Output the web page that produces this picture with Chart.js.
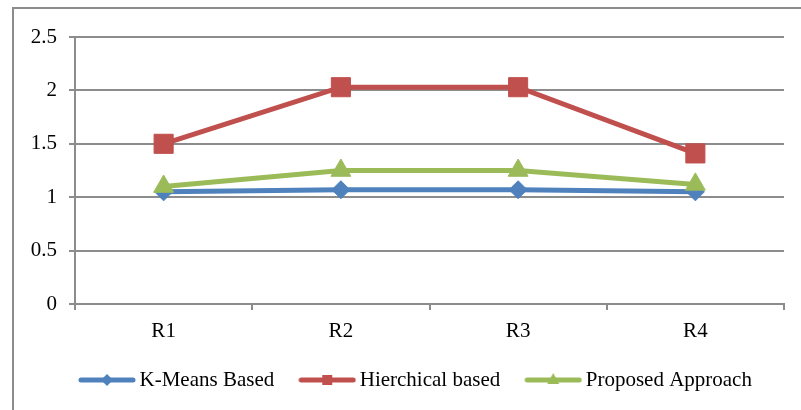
<!DOCTYPE html>
<html lang="en">
<head>
    <meta charset="UTF-8">
    <title>Clustering comparison</title>
    <style>
        body {
            margin: 0;
            background: #fff;
        }
        .frame {
            position: absolute;
            left: 12px;
            top: 7px;
            width: 801px;
            height: 410px;
            border-left: 2px solid #8c8c8c;
            border-top: 2px solid #8c8c8c;
        }
        canvas {
            position: absolute;
            left: 0;
            top: 0;
        }
    </style>
</head>
<body>
    <div class="frame"></div>
    <canvas id="myChart" width="801" height="410"></canvas>

    <script src="https://cdn.jsdelivr.net/npm/chart.js"></script>
    <script>
        const categories = ['R1', 'R2', 'R3', 'R4'];
        const kmeans = [1.05, 1.07, 1.07, 1.05];
        const hierchical = [1.5, 2.03, 2.03, 1.41];
        const proposed = [1.1, 1.25, 1.25, 1.12];
        const yTickLabels = ['0', '0.5', '1', '1.5', '2', '2.5'];

        const blue = '#4f81bd';
        const red = '#c0504d';
        const green = '#9bbb59';
        const gridGray = '#8c8c8c';

        // little line + marker picture for the legend
        function legendIcon(color, shape) {
            const c = document.createElement('canvas');
            c.width = 58;
            c.height = 20;
            const g = c.getContext('2d');
            g.strokeStyle = color;
            g.fillStyle = color;
            g.lineWidth = 5;
            g.lineCap = 'round';
            g.beginPath();
            g.moveTo(3, 10);
            g.lineTo(55, 10);
            g.stroke();
            g.beginPath();
            if (shape === 'diamond') {
                g.moveTo(29, 4); g.lineTo(35, 10); g.lineTo(29, 16); g.lineTo(23, 10);
            } else if (shape === 'square') {
                g.rect(24, 5, 10, 10);
            } else {
                g.moveTo(29, 3); g.lineTo(35, 14); g.lineTo(23, 14);
            }
            g.closePath();
            g.fill();
            return c;
        }

        const icons = [legendIcon(blue, 'diamond'), legendIcon(red, 'square'), legendIcon(green, 'triangle')];

        // legend row starts further right than the y axis box
        const shiftLegend = {
            id: 'shiftLegend',
            afterLayout(chart) {
                chart.legend.left = 54;
                chart.legend.right = 801;
            }
        };

        Chart.defaults.font.family = "'Liberation Serif', 'Times New Roman', serif";
        Chart.defaults.font.size = 21;
        Chart.defaults.color = '#000';

        const ctx = document.getElementById('myChart').getContext('2d');

        new Chart(ctx, {
            type: 'line',
            data: {
                labels: categories,
                datasets: [{
                    label: 'K-Means Based',
                    data: kmeans,
                    borderColor: blue,
                    backgroundColor: blue,
                    borderWidth: 5,
                    pointStyle: 'rectRot',
                    pointRadius: 9,
                    pointBorderWidth: 1,
                    order: 2
                }, {
                    label: 'Hierchical based',
                    data: hierchical,
                    borderColor: red,
                    backgroundColor: red,
                    borderWidth: 5,
                    pointStyle: 'rect',
                    pointRadius: 13.5,
                    pointBorderWidth: 1,
                    order: 1
                }, {
                    label: 'Proposed Approach',
                    data: proposed,
                    borderColor: green,
                    backgroundColor: green,
                    borderWidth: 5,
                    pointStyle: 'triangle',
                    pointRadius: 11.5,
                    pointBorderWidth: 1,
                    order: 0
                }]
            },
            options: {
                responsive: false,
                animation: false,
                layout: {
                    padding: { left: 20, right: 17, top: 37, bottom: 9.5 }
                },
                plugins: {
                    tooltip: { enabled: false },
                    legend: {
                        position: 'bottom',
                        align: 'start',
                        labels: {
                            usePointStyle: true,
                            pointStyleWidth: 44,
                            padding: 31,
                            generateLabels: (chart) => chart.data.datasets.map((ds, i) => ({
                                text: ds.label,
                                pointStyle: icons[i],
                                fillStyle: ds.borderColor,
                                strokeStyle: ds.borderColor,
                                lineWidth: 0,
                                hidden: false,
                                datasetIndex: i
                            }))
                        }
                    }
                },
                scales: {
                    x: {
                        offset: true,
                        grid: {
                            offset: true,
                            drawOnChartArea: false,
                            tickLength: 6,
                            color: gridGray,
                            lineWidth: 2
                        },
                        border: { color: gridGray, width: 2 },
                        ticks: { padding: 9 },
                        afterFit: (scale) => { scale.height = 34.5; }
                    },
                    y: {
                        min: 0,
                        max: 2.5,
                        ticks: {
                            stepSize: 0.5,
                            padding: 12,
                            callback: (value, i) => yTickLabels[i]
                        },
                        grid: {
                            color: gridGray,
                            lineWidth: 2,
                            tickLength: 6
                        },
                        border: { color: gridGray, width: 2 },
                        afterFit: (scale) => { scale.width = 55; }
                    }
                }
            },
            plugins: [shiftLegend]
        });
    </script>
</body>
</html>
